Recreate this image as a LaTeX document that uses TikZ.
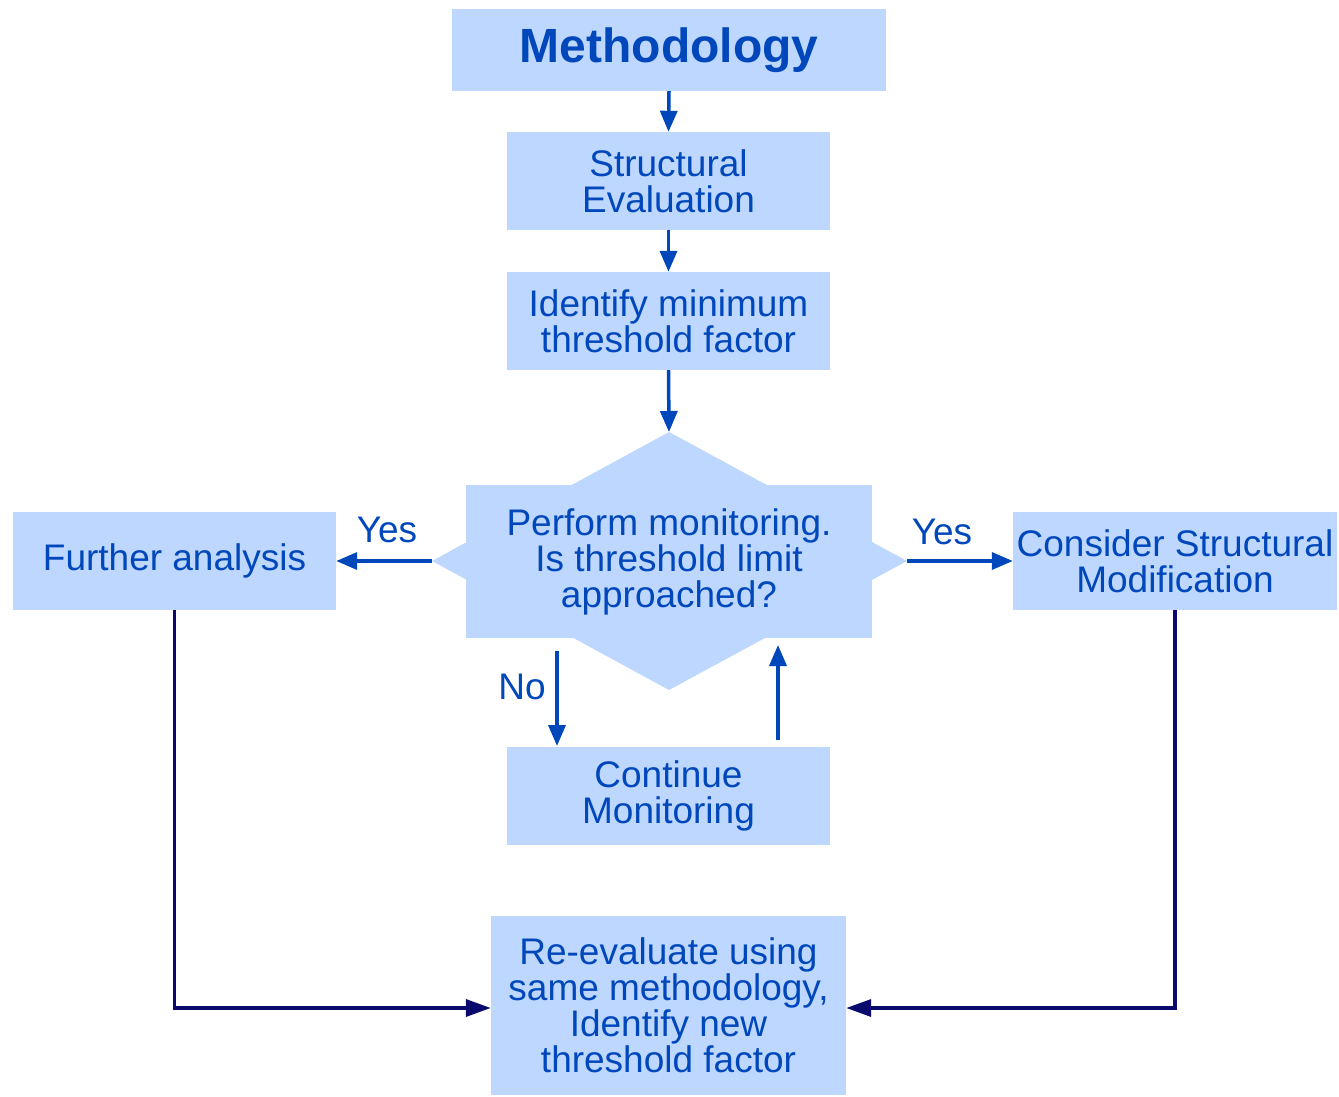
\documentclass[tikz,border=0pt]{standalone}
\usepackage{fontspec}
\setmainfont{Liberation Sans}
\usetikzlibrary{arrows.meta}
\definecolor{boxfill}{HTML}{BDD7FE}
\definecolor{txtblue}{HTML}{0047BB}
\definecolor{navy}{HTML}{0A0A6E}
\begin{document}
\begin{tikzpicture}[x=1pt,y=-1pt,
  box/.style={fill=boxfill, text=txtblue, font=\fontsize{37}{36}\selectfont, align=center, inner sep=0pt},
  lbl/.style={text=txtblue, font=\fontsize{37}{36}\selectfont, inner sep=0pt},
  bluearrow/.style={draw=txtblue, line width=3.5pt, -{Triangle[length=21pt,width=17pt]}},
  navyarrow/.style={draw=navy, line width=3.5pt, -{Triangle[length=25pt,width=17pt]}}]
\useasboundingbox (0,0) rectangle (1339,1097);
% nodes
\node[box, minimum width=434pt, minimum height=82pt, font=\fontsize{48}{52}\selectfont\bfseries] (meth) at (669,50) {Methodology};
\node[box, minimum width=323pt, minimum height=98pt] (se) at (668.5,181) {Structural\\Evaluation};
\node[box, minimum width=323pt, minimum height=98pt] (id) at (668.5,321) {Identify minimum\\threshold factor};
% decision shape
\coordinate (dN) at (669,432);
\coordinate (dS) at (669,690);
\coordinate (dW) at (432,561);
\coordinate (dE) at (907,561);
\fill[boxfill] (dN) -- (dE) -- (dS) -- (dW) -- cycle;
\node[box, minimum width=406pt, minimum height=153pt] (dec) at (669,561.5) {Perform monitoring.\\Is threshold limit\\approached?};
\node[box, minimum width=323pt, minimum height=98pt] (fa) at (174.5,561) {Further analysis};
\node[box, minimum width=324pt, minimum height=98pt] (csm) at (1175,561) {Consider Structural\\Modification};
\node[box, minimum width=323pt, minimum height=98pt] (cm) at (668.5,796) {Continue\\Monitoring};
\node[box, minimum width=355pt, minimum height=179pt] (re) at (668.5,1005.5) {Re-evaluate using\\same methodology,\\Identify new\\threshold factor};
% helper coordinates
\coordinate (noTop) at (557,651);
\coordinate (noBot) at (557,746);
\coordinate (upBot) at (778,740);
\coordinate (upTop) at (778,645);
\coordinate (faCorner) at (174.5,1008);
\coordinate (csmCorner) at (1175,1008);
% connectors
\draw[bluearrow] (meth.south) -- (se.north);
\draw[bluearrow] (se.south) -- (id.north);
\draw[bluearrow] (id.south) -- (dN);
\draw[bluearrow] (dW) -- (fa.east);
\draw[bluearrow] (dE) -- (csm.west);
\draw[bluearrow] (noTop) -- (noBot);
\draw[bluearrow] (upBot) -- (upTop);
\draw[navyarrow] (fa.south) -- (faCorner) -- (re.west |- faCorner);
\draw[navyarrow] (csm.south) -- (csmCorner) -- (re.east |- csmCorner);
% labels
\node[lbl] (yesL) at (387,530) {Yes};
\node[lbl] (yesR) at (942,532) {Yes};
\node[lbl] (noL) at (522,687) {No};
\end{tikzpicture}
\end{document}
